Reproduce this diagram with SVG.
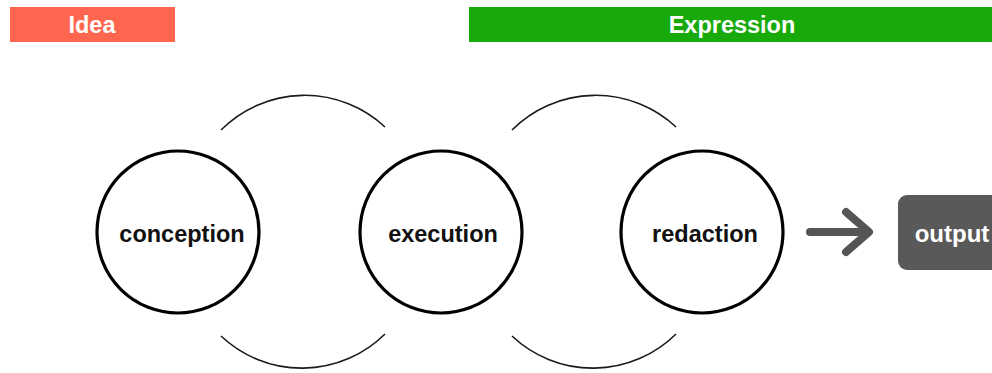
<svg xmlns="http://www.w3.org/2000/svg" width="992" height="373" viewBox="0 0 992 373">
<style>
.hdr{font-family:"Liberation Sans",Arial,sans-serif;font-weight:bold;font-size:23.5px;fill:#fff;text-anchor:middle}
.lbl{font-family:"Liberation Sans",Arial,sans-serif;font-weight:bold;font-size:23.5px;fill:#111;text-anchor:middle}
.node{fill:#fff;stroke:#000;stroke-width:3.2}
.arc{fill:none;stroke:#1a1a1a;stroke-width:1.6}
</style>
<rect width="992" height="373" fill="#fff"/>
<g id="idea">
<rect x="10" y="7" width="165" height="35" fill="#FF6650"/>
<text class="hdr" x="92" y="33">Idea</text>
</g>
<g id="expression">
<rect x="469" y="7" width="523" height="35" fill="#17AA0A"/>
<text class="hdr" x="732" y="33">Expression</text>
</g>
<g id="connectors">
<path class="arc" d="M221 130 A118 118 0 0 1 385 127"/>
<path class="arc" d="M221 336 A118 118 0 0 0 385 334"/>
<path class="arc" d="M512 130 A118 118 0 0 1 676 127"/>
<path class="arc" d="M512 336 A118 118 0 0 0 676 334"/>
<g fill="none" stroke="#555" stroke-width="8" stroke-linecap="round" stroke-linejoin="round">
<path d="M810 232 H868"/>
<path d="M846 212 L869 232 L846 252"/>
</g>
</g>
<g id="conception">
<circle class="node" cx="178" cy="232" r="81"/>
<text class="lbl" x="182" y="242">conception</text>
</g>
<g id="execution">
<circle class="node" cx="441" cy="232" r="81"/>
<text class="lbl" x="443" y="242">execution</text>
</g>
<g id="redaction">
<circle class="node" cx="702" cy="232" r="81"/>
<text class="lbl" x="705" y="242">redaction</text>
</g>
<g id="output">
<rect x="898" y="195" width="104" height="75" rx="9" fill="#595959"/>
<text class="hdr" x="952" y="242" style="font-size:24px">output</text>
</g>
</svg>
